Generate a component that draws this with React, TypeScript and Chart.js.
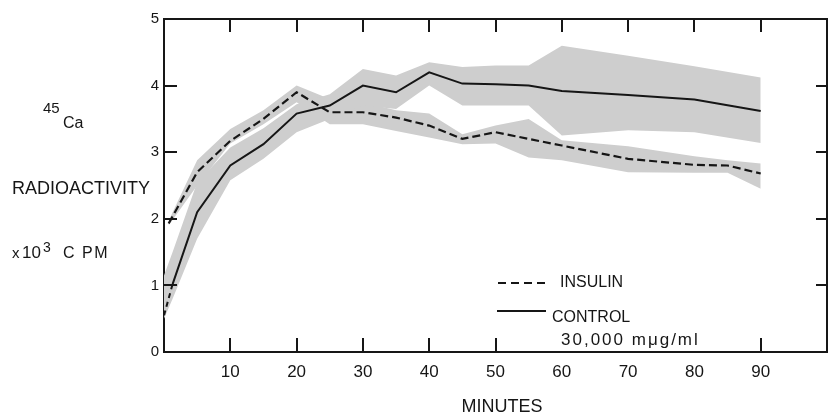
import React, { useEffect, useRef } from "react";
import { Chart, registerables } from "chart.js";

Chart.register(...registerables);

// ---- data ----
const topMinuteTicks = [10, 20, 30, 40, 50, 60, 70, 80, 90];
const bottomMinuteTicks = [10, 20, 30, 40, 50, 90];
const sideTicks = [1, 2, 3, 4];

const controlMinutes = [0, 1.3, 5, 10, 15, 20, 25, 30, 35, 40, 45, 50, 55, 60, 70, 80, 90];
const controlMean = [0.55, 1.02, 2.1, 2.8, 3.12, 3.58, 3.7, 4.0, 3.9, 4.2, 4.03, 4.02, 4.0, 3.92, 3.86, 3.79, 3.62];
const controlUpper = [1.15, 1.5, 2.55, 3.07, 3.36, 3.72, 3.87, 4.25, 4.15, 4.35, 4.28, 4.3, 4.3, 4.6, 4.45, 4.29, 4.12];
const controlLower = [0.5, 0.8, 1.7, 2.58, 2.9, 3.3, 3.5, 3.7, 3.65, 4.0, 3.7, 3.7, 3.7, 3.25, 3.33, 3.3, 3.14];

const insulinMinutes = [0.7, 5, 10, 15, 20, 25, 30, 35, 40, 45, 50, 55, 60, 70, 80, 85, 90];
const insulinMean = [1.93, 2.7, 3.17, 3.5, 3.9, 3.6, 3.6, 3.52, 3.4, 3.2, 3.3, 3.2, 3.1, 2.9, 2.81, 2.8, 2.68];
const insulinUpper = [1.97, 2.88, 3.35, 3.63, 4.0, 3.8, 3.75, 3.63, 3.58, 3.27, 3.4, 3.5, 3.18, 3.09, 2.94, 2.88, 2.83];
const insulinLower = [1.9, 2.5, 3.13, 3.42, 3.75, 3.42, 3.42, 3.32, 3.22, 3.12, 3.13, 2.92, 2.88, 2.7, 2.69, 2.69, 2.45];

const FONT = '"Liberation Sans", Arial, sans-serif';
const INK = "#161616";
const BAND = "#cecece";

const pts = (xs: number[], ys: number[]) => xs.map((x, i) => ({ x, y: ys[i] }));

function txt(ctx: CanvasRenderingContext2D, s: string, x: number, y: number, size: number, ls = 0, align: CanvasTextAlign = "left") {
  ctx.font = `${size}px ${FONT}`;
  (ctx as any).letterSpacing = `${ls}px`;
  ctx.textAlign = align;
  ctx.textBaseline = "alphabetic";
  ctx.fillText(s, x, y);
}

const decorPlugin = {
  id: "decor",
  afterDraw(chart: any) {
    const { ctx, chartArea: a, scales } = chart;
    const xs = scales.x;
    const ys = scales.y;
    ctx.save();
    ctx.strokeStyle = INK;
    ctx.lineWidth = 2;
    ctx.beginPath();
    topMinuteTicks.forEach((m) => {
      const px = Math.round(xs.getPixelForValue(m));
      ctx.moveTo(px, a.top);
      ctx.lineTo(px, a.top + 13);
    });
    bottomMinuteTicks.forEach((m) => {
      const px = Math.round(xs.getPixelForValue(m));
      ctx.moveTo(px, a.bottom);
      ctx.lineTo(px, a.bottom - 14);
    });
    sideTicks.forEach((v) => {
      const py = Math.round(ys.getPixelForValue(v));
      ctx.moveTo(a.left, py);
      ctx.lineTo(a.left + 13, py);
      ctx.moveTo(a.right, py);
      ctx.lineTo(a.right - 11, py);
    });
    ctx.stroke();

    // legend
    ctx.beginPath();
    ctx.setLineDash([8, 5]);
    ctx.moveTo(498, 283);
    ctx.lineTo(546, 283);
    ctx.stroke();
    ctx.setLineDash([]);
    ctx.beginPath();
    ctx.moveTo(497, 311);
    ctx.lineTo(546, 311);
    ctx.stroke();

    ctx.fillStyle = INK;
    txt(ctx, "INSULIN", 560, 287, 16);
    txt(ctx, "CONTROL", 552, 322, 16);
    txt(ctx, "30,000 mμg/ml", 561, 345, 17, 2);

    // y-axis annotation
    txt(ctx, "45", 43, 113, 15);
    txt(ctx, "Ca", 63, 128, 16);
    txt(ctx, "RADIOACTIVITY", 12, 194, 18);
    txt(ctx, "x", 12, 258, 15);
    txt(ctx, "10", 22, 258, 17);
    txt(ctx, "3", 43, 252, 14);
    txt(ctx, "C PM", 63, 258, 16, 1.5);

    // x-axis title
    txt(ctx, "MINUTES", 502, 412, 18, 0, "center");
    ctx.restore();
  },
};

export default function App() {
  const ref = useRef<HTMLCanvasElement | null>(null);

  useEffect(() => {
    if (!ref.current) return;
    const bandCommon = {
      borderColor: "rgba(0,0,0,0)",
      borderWidth: 0,
      backgroundColor: BAND,
      pointRadius: 0,
      tension: 0,
    };
    const chart = new Chart(ref.current, {
      type: "line",
      data: {
        datasets: [
          {
            label: "CONTROL",
            data: pts(controlMinutes, controlMean),
            borderColor: INK,
            borderWidth: 2,
            pointRadius: 0,
            fill: false,
            tension: 0,
            segment: {
              borderDash: (c: any) => (c.p0DataIndex === 0 ? [5, 4] : undefined),
            },
          },
          {
            label: "INSULIN",
            data: pts(insulinMinutes, insulinMean),
            borderColor: INK,
            borderWidth: 2.2,
            borderDash: [8, 4],
            pointRadius: 0,
            fill: false,
            tension: 0,
          },
          { label: "control upper", data: pts(controlMinutes, controlUpper), fill: "+1", ...bandCommon },
          { label: "control lower", data: pts(controlMinutes, controlLower), fill: false, ...bandCommon },
          { label: "insulin upper", data: pts(insulinMinutes, insulinUpper), fill: "+1", ...bandCommon },
          { label: "insulin lower", data: pts(insulinMinutes, insulinLower), fill: false, ...bandCommon },
        ],
      },
      options: {
        animation: false,
        responsive: true,
        maintainAspectRatio: false,
        layout: { padding: 0 },
        plugins: { legend: { display: false }, tooltip: { enabled: false }, title: { display: false } },
        scales: {
          x: {
            type: "linear",
            position: "bottom",
            min: 0,
            max: 100,
            afterFit: (s: any) => {
              s.height = 63;
              s.paddingLeft = 0;
              s.paddingRight = 0;
            },
            ticks: {
              stepSize: 10,
              padding: 0,
              maxRotation: 0,
              autoSkip: false,
              color: INK,
              font: { family: FONT, size: 17 },
              callback: (v: any) => (v > 0 && v < 100 ? String(v) : ""),
            },
            grid: { display: true, drawOnChartArea: false, drawTicks: true, tickLength: 10, color: "rgba(0,0,0,0)" },
            border: { display: true, color: INK, width: 2 },
          },
          x2: {
            type: "linear",
            position: "top",
            min: 0,
            max: 100,
            afterFit: (s: any) => {
              s.height = 19;
              s.paddingLeft = 0;
              s.paddingRight = 0;
            },
            ticks: { display: false, padding: 0 },
            grid: { display: false, drawTicks: false },
            border: { display: true, color: INK, width: 2 },
          },
          y: {
            type: "linear",
            position: "left",
            min: 0,
            max: 5,
            afterFit: (s: any) => {
              s.width = 164;
            },
            ticks: {
              stepSize: 1,
              padding: 5,
              color: INK,
              font: { family: FONT, size: 15 },
            },
            grid: { display: false, drawTicks: false },
            border: { display: true, color: INK, width: 2 },
          },
          y2: {
            type: "linear",
            position: "right",
            min: 0,
            max: 5,
            afterFit: (s: any) => {
              s.width = 1;
            },
            ticks: { display: false },
            grid: { display: false, drawTicks: false },
            border: { display: true, color: INK, width: 2 },
          },
        },
      },
      plugins: [decorPlugin],
    } as any);
    return () => chart.destroy();
  }, []);

  return (
    <div style={{ position: "absolute", left: 0, top: 0, width: 828, height: 415, background: "#fff" }}>
      <canvas ref={ref} />
    </div>
  );
}
